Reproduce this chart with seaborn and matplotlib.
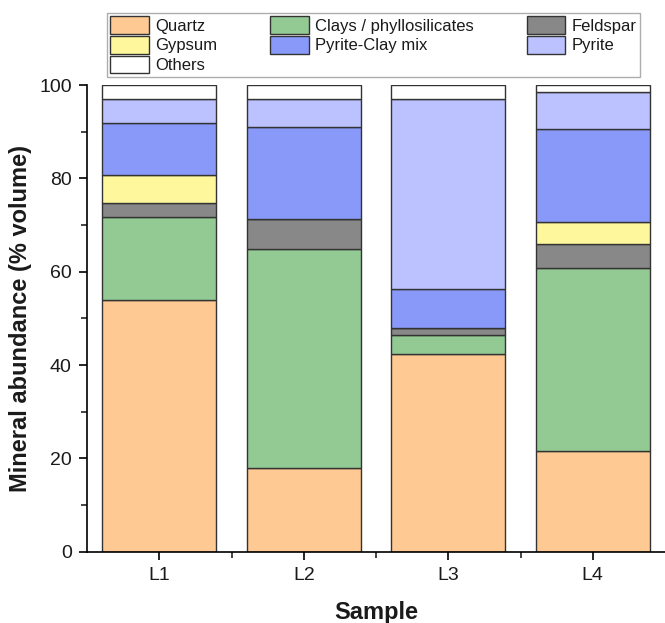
import numpy as np
import pandas as pd
import seaborn as sns
import matplotlib.pyplot as plt
from matplotlib.ticker import MultipleLocator, FixedLocator

samples = ['L1', 'L2', 'L3', 'L4']
minerals = ['Quartz', 'Clays / phyllosilicates', 'Feldspar', 'Gypsum',
            'Pyrite-Clay mix', 'Pyrite', 'Others']
quartz = [54.0, 17.9, 42.3, 21.6]
clays = [17.7, 46.9, 4.1, 39.1]
feldspar = [3.0, 6.5, 1.6, 5.2]
gypsum = [6.0, 0.0, 0.0, 4.8]
pyrite_clay = [11.1, 19.7, 8.2, 19.9]
pyrite = [5.2, 6.1, 40.9, 7.9]
others = [3.0, 2.9, 2.9, 1.5]

colors = ['#FFC993', '#93C993', '#888888', '#FFF79C', '#8899FA', '#BBC2FF', '#FFFFFF']

df = pd.DataFrame({'sample': samples, 'Quartz': quartz, 'Clays / phyllosilicates': clays,
                   'Feldspar': feldspar, 'Gypsum': gypsum, 'Pyrite-Clay mix': pyrite_clay,
                   'Pyrite': pyrite, 'Others': others})

sns.set_style('ticks')
plt.rcParams['font.family'] = ['Liberation Sans', 'DejaVu Sans']
plt.rcParams['text.color'] = '#1a1a1a'

fig = plt.figure(figsize=(6.65, 6.23), dpi=100)
ax = fig.add_axes([0.131, 0.1145, 0.869, 0.749])

bottom = np.zeros(len(samples))
for m, c in zip(minerals, colors):
    sns.barplot(data=df, x='sample', y=m, bottom=bottom, color=c, edgecolor='#333333',
                linewidth=1.0, width=0.79, saturation=1, label=m, ax=ax)
    bottom = bottom + df[m].values

ax.set_ylim(0, 100)
ax.set_xlim(-0.5, 3.5)
ax.yaxis.set_major_locator(MultipleLocator(20))
ax.yaxis.set_minor_locator(MultipleLocator(10))
ax.xaxis.set_minor_locator(FixedLocator([0.5, 1.5, 2.5]))
ax.tick_params(axis='both', which='major', direction='out', length=6, width=1.2,
               labelsize=14, colors='black', labelcolor='#1a1a1a', pad=5)
ax.tick_params(axis='both', which='minor', direction='out', length=4, width=1.2)
sns.despine(ax=ax)
for s in ['left', 'bottom']:
    ax.spines[s].set_linewidth(1.2)
    ax.spines[s].set_color('black')

ax.set_xlabel('Sample', fontsize=17, fontweight='bold', labelpad=12, color='#1a1a1a')
ax.set_ylabel('Mineral abundance (% volume)', fontsize=17, fontweight='bold', labelpad=5,
              color='#1a1a1a')

h, l = ax.get_legend_handles_labels()
lookup = dict(zip(l, h))
order = ['Quartz', 'Gypsum', 'Others', 'Clays / phyllosilicates', 'Pyrite-Clay mix',
         'Feldspar', 'Pyrite']
leg = ax.legend([lookup[k] for k in order], order, ncol=3, loc='upper left',
                bbox_to_anchor=(0.161, 0.876, 0.802, 0.103), bbox_transform=fig.transFigure,
                mode='expand', fontsize=12, frameon=True, fancybox=False,
                handlelength=2.3, handleheight=1.25, handletextpad=0.4,
                labelspacing=0.12, borderpad=0.2, borderaxespad=0)
leg.get_frame().set_edgecolor('#999999')
leg.get_frame().set_linewidth(1.0)

fig.savefig('out.png', dpi=100)
